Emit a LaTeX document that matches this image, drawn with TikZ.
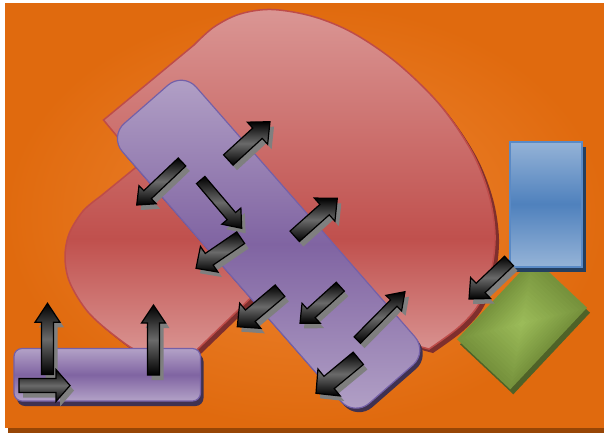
\documentclass[tikz,border=0pt]{standalone}
\usetikzlibrary{calc}
\definecolor{bgin}{HTML}{EE8735}
\definecolor{bgout}{HTML}{E06A0E}
\definecolor{bgshadow}{HTML}{974606}
\definecolor{redlight}{HTML}{DA9694}
\definecolor{redmid}{HTML}{C0504D}
\definecolor{redline}{HTML}{BE4C49}
\definecolor{redshadow}{HTML}{7F2F2D}
\definecolor{purlight}{HTML}{B3A2C7}
\definecolor{purdark}{HTML}{8064A2}
\definecolor{purline}{HTML}{7460A8}
\definecolor{purshadow}{HTML}{3F3151}
\definecolor{bluelight}{HTML}{95B3D7}
\definecolor{bluemid}{HTML}{4F81BD}
\definecolor{blueline}{HTML}{5A8AC6}
\definecolor{blueshadow}{HTML}{243F60}
\definecolor{greenlight}{HTML}{9BBB59}
\definecolor{greendark}{HTML}{76923C}
\definecolor{greenshadow}{HTML}{4F6228}
\definecolor{arrgray}{HTML}{6A6A6A}
\definecolor{arrshadow}{HTML}{7F7F7F}
\pgfdeclareverticalshading{redshade}{100bp}{color(0bp)=(redlight); color(25bp)=(redlight); color(42bp)=(redmid); color(75bp)=(redlight); color(100bp)=(redlight)}
\tikzset{
  redblob/.style={shading=redshade, draw=redline, line width=1.5pt},
  purfill/.style={top color=purlight, bottom color=purlight, middle color=purdark, draw=purline, line width=1.2pt},
  bluefill/.style={top color=bluelight, bottom color=bluelight, middle color=bluemid, draw=blueline, line width=2pt},
  arrbody/.style={top color=black, bottom color=black, middle color=arrgray, draw=black, line width=1.2pt},
}
% block arrow: tail x, tail y, tip x, tip y, shaft half width, head half width, head length
\newcommand{\blkarrow}[7]{%
  \coordinate (aT) at (#1,#2);
  \coordinate (aP) at (#3,#4);
  \coordinate (aQ) at ($(aP)!#7pt!(aT)$);
  \coordinate (a1) at ($(aT)!#5pt!90:(aP)$);
  \coordinate (a2) at ($(aQ)!#5pt!90:(aP)$);
  \coordinate (a3) at ($(aQ)!#6pt!90:(aP)$);
  \coordinate (a5) at ($(aQ)!#6pt!-90:(aP)$);
  \coordinate (a6) at ($(aQ)!#5pt!-90:(aP)$);
  \coordinate (a7) at ($(aT)!#5pt!-90:(aP)$);
  \begin{scope}[transform canvas={shift={(4pt,-5pt)}}]
    \fill[arrshadow] (a1) -- (a2) -- (a3) -- (aP) -- (a5) -- (a6) -- (a7) -- cycle;
  \end{scope}
  \shadedraw[arrbody] (a1) -- (a2) -- (a3) -- (aP) -- (a5) -- (a6) -- (a7) -- cycle;
}
\def\redpath{(103.5,120) -- (194,45) -- plot[smooth,tension=0.55] coordinates {(194,45) (214,27) (240,14) (272,9.5) (313,16.5) (353,33) (397,63) (440,105) (472,152) (489,195) (495,235) (491,272) (479,304) (459,327) (429,349)} -- (395,340) -- (262,287) -- (196.7,350) -- plot[smooth,tension=0.55] coordinates {(196.7,350) (172,357) (140,352) (115,336) (88,312) (70,283) (65,258) (69,234) (83,211) (100,196.7)} -- (140,164) -- cycle}
\def\bandpath{(109.2,136.6) -- (183.0,72.0) -- (428.0,351.8) -- (354.2,416.4) -- cycle}
\begin{document}
\begin{tikzpicture}[x=1pt,y=-1pt]
\useasboundingbox (0,0) rectangle (604,432);
% background
\fill[bgshadow] (8,8) rectangle (612,440);
\shade[inner color=bgin, outer color=bgout] (5,3) rectangle (606,427);
% red blob
\fill[redshadow, shift={(4,4)}] \redpath;
\path[redblob] \redpath;
% purple band
\fill[purshadow, rounded corners=20pt, shift={(3,4)}] \bandpath;
\shadedraw[purfill, rounded corners=20pt] \bandpath;
% green rectangle
\coordinate (gC) at (522,323.5);
\coordinate (gL) at (457,339.3);
\coordinate (gB) at (510.3,389.3);
\coordinate (gR) at (587,307.7);
\coordinate (gT) at (533.7,257.7);
\begin{scope}[transform canvas={shift={(3pt,-5pt)}}]
  \fill[greenshadow] (gL) -- (gB) -- (gR) -- (gT) -- cycle;
\end{scope}
\foreach \i [evaluate=\i as \s using 1-\i/16, evaluate=\i as \p using int(\i*100/15)] in {0,...,15} {
  \fill[greenlight!\p!greendark] ($(gC)!\s!(gL)$) -- ($(gC)!\s!(gB)$) -- ($(gC)!\s!(gR)$) -- ($(gC)!\s!(gT)$) -- cycle;
}
% blue rectangle
\fill[blueshadow] (513.5,146.5) rectangle (585.5,271.5);
\shadedraw[bluefill] (509.5,141.5) rectangle (581.5,266.5);
% bottom purple box
\fill[purshadow, rounded corners=8pt] (17,353.5) rectangle (203.5,406);
\shadedraw[purfill, rounded corners=8pt] (14,348.5) rectangle (200.5,401);
% arrows
\blkarrow{228.3}{160}{270}{121.7}{7}{15}{17}
\blkarrow{182}{162}{136.7}{205}{5.5}{12.5}{15}
\blkarrow{200.7}{180}{241.7}{228.3}{5.5}{12.5}{16}
\blkarrow{240.7}{237.7}{196}{268.3}{7}{15.5}{16}
\blkarrow{294.7}{236.3}{337.3}{198.3}{7}{15.5}{17}
\blkarrow{280}{290.7}{237.3}{326.7}{7.5}{16.5}{17}
\blkarrow{340.3}{286.7}{300}{323.3}{6}{13.5}{15}
\blkarrow{357.3}{340}{405}{291.7}{4.5}{11}{16}
\blkarrow{358.3}{358.3}{316}{393.3}{8}{17.5}{17}
\blkarrow{509}{261}{469}{299}{6.5}{14.5}{16}
\blkarrow{47.5}{374.5}{47.5}{303.3}{6}{12.5}{19}
\blkarrow{153.5}{375}{153.5}{305}{6}{12}{18}
\blkarrow{19}{385.5}{70}{385.5}{7}{16}{14}
\end{tikzpicture}
\end{document}
